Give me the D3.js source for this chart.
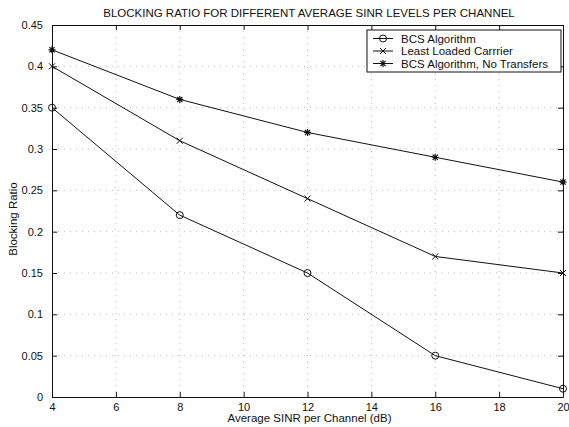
<!DOCTYPE html>
<html>
<head>
<meta charset="utf-8">
<script src="https://cdn.jsdelivr.net/npm/d3@7"></script>
<style>
  body { margin: 0; background: #fff; }
  svg text { font-family: "Liberation Sans", Arial, sans-serif; fill: #111; }
</style>
</head>
<body>
<div id="chart"></div>
<script>
// Data
const sinr = [4, 8, 12, 16, 20];
const bcs = [0.35, 0.22, 0.15, 0.05, 0.01];
const leastLoaded = [0.40, 0.31, 0.24, 0.17, 0.15];
const noTransfers = [0.42, 0.36, 0.32, 0.29, 0.26];
const seriesNames = ["BCS Algorithm", "Least Loaded Carrrier", "BCS Algorithm, No Transfers"];
const seriesMarkers = ["circle", "cross", "star"];
const xTicks = [4, 6, 8, 10, 12, 14, 16, 18, 20];
const yTicks = [0, 0.05, 0.1, 0.15, 0.2, 0.25, 0.3, 0.35, 0.4, 0.45];

const W = 569, H = 427;
const margin = {top: 25, right: 6, bottom: 30, left: 52},
    width = W - margin.left - margin.right,
    height = H - margin.top - margin.bottom;

const svg = d3.select("#chart")
    .append("svg")
    .attr("width", W)
    .attr("height", H);

const g = svg.append("g")
    .attr("transform", "translate(" + margin.left + "," + margin.top + ")");

const xScale = d3.scaleLinear().domain([4, 20]).range([0, width]);
const yScale = d3.scaleLinear().domain([0, 0.45]).range([height, 0]);

// dotted grid
g.selectAll(".vgrid")
    .data(xTicks.slice(1, -1))
    .enter().append("line")
    .attr("x1", d => xScale(d)).attr("x2", d => xScale(d))
    .attr("y1", 0).attr("y2", height)
    .attr("stroke", "#aaa").attr("stroke-width", 0.8)
    .attr("stroke-dasharray", "1,5");

g.selectAll(".hgrid")
    .data(yTicks.slice(1, -1))
    .enter().append("line")
    .attr("x1", 0).attr("x2", width)
    .attr("y1", d => yScale(d)).attr("y2", d => yScale(d))
    .attr("stroke", "#aaa").attr("stroke-width", 0.8)
    .attr("stroke-dasharray", "1,5");

// axes, ticks pointing inwards, on all four sides
const fmtY = d => d === 0 ? "0" : String(+d.toFixed(2));
const axB = g.append("g")
    .attr("transform", "translate(0," + height + ")")
    .call(d3.axisBottom(xScale).tickValues(xTicks).tickSizeInner(-5).tickSizeOuter(0).tickPadding(9));
const axL = g.append("g")
    .call(d3.axisLeft(yScale).tickValues(yTicks).tickFormat(fmtY).tickSizeInner(-5).tickSizeOuter(0).tickPadding(9));
const axT = g.append("g")
    .call(d3.axisTop(xScale).tickValues(xTicks).tickSizeInner(-5).tickSizeOuter(0).tickFormat(""));
const axR = g.append("g")
    .attr("transform", "translate(" + width + ",0)")
    .call(d3.axisRight(yScale).tickValues(yTicks).tickSizeInner(-5).tickSizeOuter(0).tickFormat(""));

[axB, axL, axT, axR].forEach(a => {
    a.selectAll("path, line").attr("stroke", "#111");
    a.selectAll("text").attr("font-size", 11).attr("fill", "#111")
        .style("font-family", "'Liberation Sans', Arial, sans-serif");
});
axB.selectAll("text").attr("dy", "0.45em");

// lines and markers
const allSeries = [bcs, leastLoaded, noTransfers];
const line = d3.line()
    .x((d, i) => xScale(sinr[i]))
    .y(d => yScale(d));

function drawMarker(sel, type, x, y) {
    if (type === "circle") {
        sel.append("circle").attr("cx", x).attr("cy", y).attr("r", 3.5)
            .attr("fill", "none").attr("stroke", "#111").attr("stroke-width", 1);
    } else if (type === "cross") {
        sel.append("path")
            .attr("d", `M${x-3},${y-3}L${x+3},${y+3}M${x-3},${y+3}L${x+3},${y-3}`)
            .attr("stroke", "#111").attr("stroke-width", 1);
    } else {
        sel.append("path")
            .attr("d", `M${x-3.5},${y}L${x+3.5},${y}M${x},${y-3.5}L${x},${y+3.5}M${x-2.6},${y-2.6}L${x+2.6},${y+2.6}M${x-2.6},${y+2.6}L${x+2.6},${y-2.6}`)
            .attr("stroke", "#111").attr("stroke-width", 1.2);
    }
}

allSeries.forEach((vals, k) => {
    g.append("path")
        .datum(vals)
        .attr("d", line)
        .attr("fill", "none")
        .attr("stroke", "#111")
        .attr("stroke-width", 1);
    vals.forEach((v, i) => drawMarker(g, seriesMarkers[k], xScale(sinr[i]), yScale(v)));
});

// legend
const legX = 315, legY = 5, legW = 194, legH = 42;
const legend = g.append("g").attr("transform", "translate(" + legX + "," + legY + ")");
legend.append("rect")
    .attr("width", legW).attr("height", legH)
    .attr("fill", "#fff").attr("stroke", "#111").attr("stroke-width", 1);

seriesNames.forEach((name, i) => {
    const yy = 8.5 + i * 12.5;
    legend.append("line")
        .attr("x1", 6).attr("x2", 26).attr("y1", yy).attr("y2", yy)
        .attr("stroke", "#111").attr("stroke-width", 1);
    drawMarker(legend, seriesMarkers[i], 16, yy);
    legend.append("text")
        .attr("x", 34).attr("y", yy).attr("dy", "0.35em")
        .attr("font-size", 11.5)
        .text(name);
});

// title and axis labels
svg.append("text")
    .attr("x", 309)
    .attr("y", 17)
    .attr("text-anchor", "middle")
    .attr("font-size", 11.5)
    .text("BLOCKING RATIO FOR DIFFERENT AVERAGE SINR LEVELS PER CHANNEL");

svg.append("text")
    .attr("x", margin.left + width / 2 + 2)
    .attr("y", H - 5)
    .attr("text-anchor", "middle")
    .attr("font-size", 11.5)
    .text("Average SINR per Channel (dB)");

svg.append("text")
    .attr("transform", "rotate(-90)")
    .attr("x", -(margin.top + height / 2 + 8))
    .attr("y", 17)
    .attr("text-anchor", "middle")
    .attr("font-size", 11.5)
    .text("Blocking Ratio");
</script>
</body>
</html>
